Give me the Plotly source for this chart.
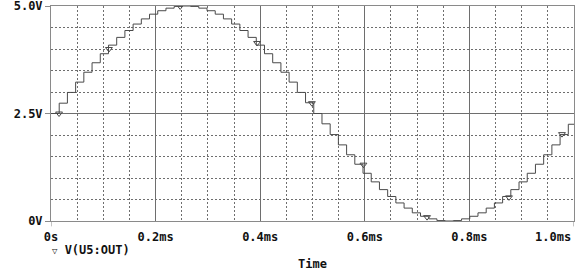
import plotly.graph_objects as go

# ---- data ----
time_ms = [0, 0.0157, 0.0314, 0.0471, 0.0628, 0.0785, 0.0942, 0.1099, 0.1256, 0.1413,
           0.157, 0.1727, 0.1884, 0.2041, 0.2198, 0.2355, 0.2512, 0.2669, 0.2826, 0.2983,
           0.314, 0.3297, 0.3454, 0.3611, 0.3768, 0.3925, 0.4082, 0.4239, 0.4396, 0.4553,
           0.471, 0.4867, 0.5024, 0.5181, 0.5338, 0.5495, 0.5652, 0.5809, 0.5966, 0.6123,
           0.628, 0.6437, 0.6594, 0.6751, 0.6908, 0.7065, 0.7222, 0.7379, 0.7536, 0.7693,
           0.785, 0.8007, 0.8164, 0.8321, 0.8478, 0.8635, 0.8792, 0.8949, 0.9106, 0.9263,
           0.942, 0.9577, 0.9734, 0.9891, 1.0]
v_out = [2.50, 2.74, 2.99, 3.23, 3.46, 3.68, 3.89, 4.09, 4.27, 4.43,
         4.58, 4.70, 4.81, 4.89, 4.95, 4.99, 5.00, 4.99, 4.95, 4.89,
         4.81, 4.70, 4.58, 4.43, 4.27, 4.09, 3.89, 3.68, 3.46, 3.23,
         2.99, 2.75, 2.50, 2.26, 2.01, 1.77, 1.54, 1.32, 1.11, 0.91,
         0.73, 0.57, 0.42, 0.30, 0.19, 0.11, 0.05, 0.01, 0.00, 0.01,
         0.05, 0.11, 0.19, 0.30, 0.42, 0.57, 0.73, 0.91, 1.11, 1.32,
         1.54, 1.77, 2.01, 2.25, 2.25]

marker_t = [0.0154, 0.1108, 0.2470, 0.3940, 0.4988, 0.5974, 0.7190, 0.8757, 0.9770]
marker_v = [2.50, 4.00, 4.99, 4.14, 2.74, 1.31, 0.09, 0.55, 2.02]

x_tickvals = [0, 0.2, 0.4, 0.6, 0.8, 1.0]
x_ticktext = ["0s", "0.2ms", "0.4ms", "0.6ms", "0.8ms", "1.0ms"]
y_tickvals = [0, 2.5, 5.0]
y_ticktext = ["0V", "2.5V", "5.0V"]
series_name = "V(U5:OUT)"

TRACE = "#4a4a4a"
GRID = "#6e6e6e"
FRAME = "#8a8a8a"
FONT = dict(family="DejaVu Sans Mono", size=12, color="#111111", weight="bold")

fig = go.Figure()
fig.add_trace(go.Scatter(x=time_ms, y=v_out, mode="lines", line_shape="hv",
                         line=dict(color=TRACE, width=1), name=series_name,
                         showlegend=False, hoverinfo="skip"))
fig.add_trace(go.Scatter(x=marker_t, y=marker_v, mode="markers",
                         marker=dict(symbol="triangle-down-open", size=6,
                                     color=TRACE, line=dict(width=1, color=TRACE)),
                         name=series_name, showlegend=False, hoverinfo="skip"))

# last tick label is drawn right-aligned to the frame (as in the reference)
fig.update_xaxes(range=[0, 1.0], tickvals=x_tickvals,
                 ticktext=x_ticktext[:-1] + [""],
                 showline=True, linecolor=FRAME, linewidth=1, mirror=True,
                 showgrid=True, gridcolor=GRID, gridwidth=1,
                 ticks="outside", ticklen=5, tickcolor="rgba(0,0,0,0)",
                 tickfont=FONT, zeroline=False, automargin=False,
                 ticklabeloverflow="allow",
                 minor=dict(dtick=0.05, tick0=0, showgrid=True, gridcolor=GRID,
                            griddash="2px,2px", gridwidth=1),
                 title=dict(text="Time", font=FONT, standoff=16))
fig.update_yaxes(range=[0, 5.0], tickvals=y_tickvals, ticktext=y_ticktext,
                 showline=True, linecolor=FRAME, linewidth=1, mirror=True,
                 showgrid=True, gridcolor=GRID, gridwidth=1,
                 ticks="outside", ticklen=5, tickcolor=FRAME,
                 tickfont=FONT, zeroline=False, automargin=False,
                 ticklabeloverflow="allow",
                 minor=dict(dtick=0.5, tick0=0, showgrid=True, gridcolor=GRID,
                            griddash="2px,2px", gridwidth=1))

fig.add_annotation(xref="x", yref="paper", x=x_tickvals[-1], y=-0.074,
                   xanchor="right", yanchor="middle", xshift=-1, showarrow=False,
                   font=FONT, text=x_ticktext[-1])

# small tick stubs below the axis at the two ends
for xv in (0, 1.0):
    fig.add_shape(type="line", xref="x", yref="paper", x0=xv, x1=xv, y0=0, y1=-0.025,
                  line=dict(color=FRAME, width=1))

fig.add_annotation(xref="x", yref="paper", x=0, y=-0.135, xanchor="left", yanchor="middle",
                   xshift=-1, showarrow=False, font=FONT,
                   text="<span style='font-size:9px'>\u25bd</span> " + series_name)

fig.update_layout(width=576, height=271, margin=dict(l=51, r=2, t=6, b=50),
                  plot_bgcolor="white", paper_bgcolor="white", showlegend=False)

fig.write_html("out.html")
